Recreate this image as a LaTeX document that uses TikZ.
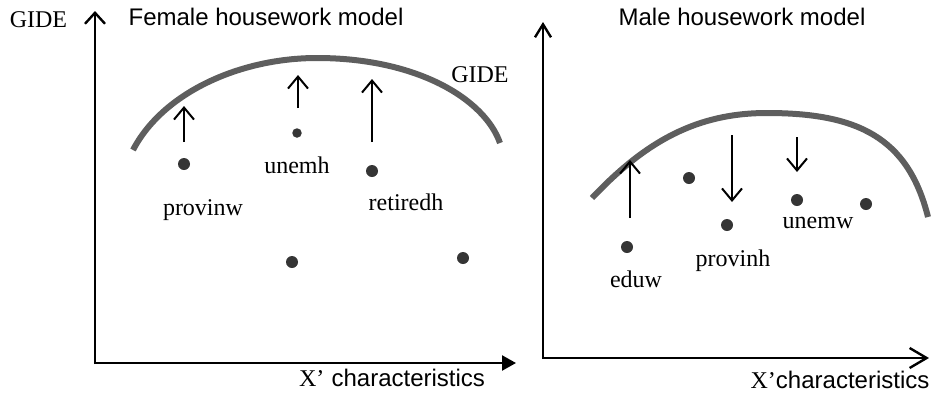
\documentclass[tikz,border=0pt]{standalone}
\usepackage{fontspec}
\setmainfont{Liberation Serif}
\setsansfont{Liberation Sans}
\usetikzlibrary{arrows.meta}
\definecolor{gidegray}{HTML}{5E5E5E}
\definecolor{dotgray}{HTML}{353535}
\begin{document}
\begin{tikzpicture}[x=1pt,y=-1pt,
  axisline/.style={line width=2.4pt, black},
  effect/.style={line width=2pt, black, -{Straight Barb[length=12pt,width=20pt]}},
  gidecurve/.style={line width=6pt, gidegray, line cap=butt},
  dotnode/.style={circle, fill=dotgray, inner sep=0pt, minimum size=12pt},
  smalldot/.style={dotnode, minimum size=9.5pt},
  lab/.style={font=\fontsize{24}{28}\selectfont, anchor=base, inner sep=0pt},
  ttl/.style={font=\sffamily\fontsize{24}{28}\selectfont, anchor=base, inner sep=0pt}]
\useasboundingbox (0,0) rectangle (938,392);

% ---------------- Left panel ----------------
\coordinate (LO) at (95,363);
\coordinate (LY) at (95,11);
\coordinate (LX) at (516,363);
\draw[axisline, -{Straight Barb[length=11pt,width=20pt]}] (95,364.2) -- (LY);
\draw[axisline, -{Triangle[length=14pt,width=15pt]}] (93.8,363) -- (LX);

\node[lab] (gideaxis) at (38.5,27) {GIDE};
\node[ttl] (ftitle) at (266,25) {Female housework model};
\node[lab] (lxlab) at (392,386) {X’\hspace{0.3em}\sffamily characteristics};

\coordinate (lc0) at (133,150);
\coordinate (lc1) at (317,58);
\coordinate (lc2) at (500,143);
\draw[gidecurve] (lc0) .. controls (163,92.5) and (240,58) .. (lc1)
                       .. controls (417,58) and (484.6,99) .. (lc2);
\node[lab] (gidearc) at (480,82) {GIDE};

\node[dotnode] (provinw) at (184,164) {};
\node[smalldot] (unemh) at (297,133) {};
\node[dotnode] (retiredh) at (372,171) {};
\node[dotnode] (d4) at (292,262) {};
\node[dotnode] (d5) at (463,258) {};

\node[lab] (provinwlab) at (203,215) {provinw};
\node[lab] (unemhlab) at (297,173) {unemh};
\node[lab] (retiredhlab) at (406,210) {retiredh};

\coordinate (a1s) at (184,142); \coordinate (a1e) at (184,106);
\coordinate (a2s) at (298,108); \coordinate (a2e) at (298,75);
\coordinate (a3s) at (372,142); \coordinate (a3e) at (372,79);
\draw[effect] (a1s) -- (a1e);
\draw[effect] (a2s) -- (a2e);
\draw[effect] (a3s) -- (a3e);

% ---------------- Right panel ----------------
\coordinate (RO) at (543,358);
\coordinate (RY) at (543,22);
\coordinate (RX) at (929,358);
\draw[axisline, -{Straight Barb[length=13pt,width=16pt]}] (543,359.2) -- (RY);
\draw[axisline, -{Straight Barb[length=17pt,width=20pt]}] (541.8,358) -- (RX);

\node[ttl] (mtitle) at (742,25) {Male housework model};
\node[lab] (rxlab) at (840,388) {X’\sffamily characteristics};

\coordinate (rc0) at (592,198);
\coordinate (rc1) at (767,113);
\coordinate (rc2) at (928,217);
\draw[gidecurve] (rc0) .. controls (646,141) and (697,113) .. (rc1)
                       .. controls (857,113) and (908,137) .. (rc2);

\node[dotnode] (eduw) at (627,247) {};
\node[dotnode] (e2) at (689,178) {};
\node[dotnode] (provinh) at (727,225) {};
\node[dotnode] (unemw) at (797,200) {};
\node[dotnode] (e5) at (866,204) {};

\node[lab] (eduwlab) at (636,287) {eduw};
\node[lab] (provinhlab) at (733,266) {provinh};
\node[lab] (unemwlab) at (818,228) {unemw};

\coordinate (b1s) at (630,218); \coordinate (b1e) at (630,160);
\coordinate (b2s) at (732,135); \coordinate (b2e) at (732,202);
\coordinate (b3s) at (797,137); \coordinate (b3e) at (797,172);
\draw[effect] (b1s) -- (b1e);
\draw[effect] (b2s) -- (b2e);
\draw[effect] (b3s) -- (b3e);
\end{tikzpicture}
\end{document}
